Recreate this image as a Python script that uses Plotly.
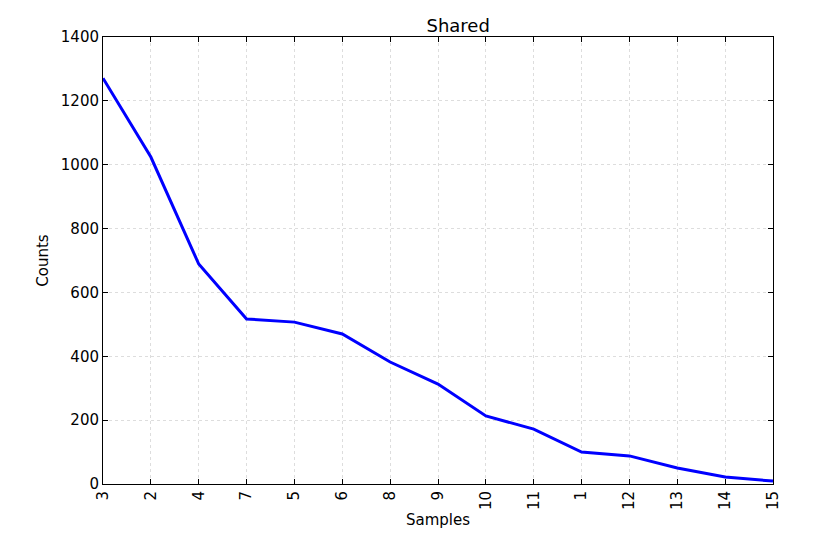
import plotly.graph_objects as go

samples = ["3","2","4","7","5","6","8","9","10","11","1","12","13","14","15"]
counts = [1271,1024,689,517,507,470,382,313,213,172,100,88,50,22,9]

fig = go.Figure(go.Scatter(x=samples, y=counts, mode="lines",
                           line=dict(color="#0000ff", width=3)))
axis_common = dict(showline=True, linecolor="black", linewidth=1, mirror="ticks",
                   ticks="inside", ticklen=5, tickcolor="black",
                   showgrid=True, gridcolor="#dddddd", griddash="dot", zeroline=False,
                   tickfont=dict(size=15, color="black"))
fig.update_xaxes(title=dict(text="Samples", font=dict(size=15, color="black"), standoff=5),
                 tickangle=-90, range=[0, len(samples)-1], type="category", **axis_common)
fig.update_yaxes(title=dict(text="Counts", font=dict(size=15, color="black"), standoff=8),
                 range=[0, 1400], dtick=200, **axis_common)
fig.update_layout(width=826, height=558, plot_bgcolor="white", paper_bgcolor="white",
                  font=dict(family="DejaVu Sans"),
                  title=dict(text="Shared", x=0.545, xanchor="center", y=0.98,
                             font=dict(size=18, color="black")),
                  margin=dict(l=95, r=61, t=29, b=82), showlegend=False)
fig.write_html("out.html")
